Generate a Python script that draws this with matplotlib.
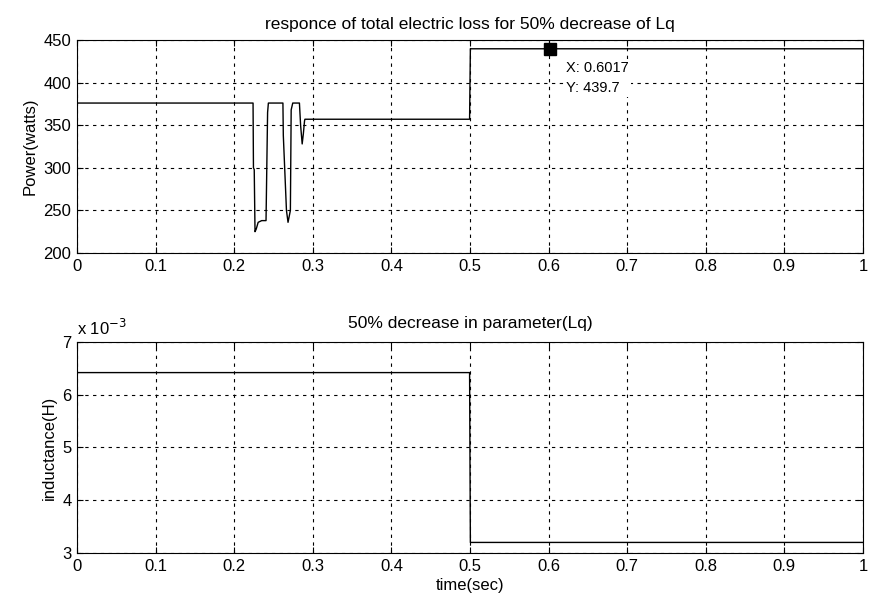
import matplotlib.pyplot as plt
from matplotlib.ticker import FuncFormatter

plt.rcParams['font.family'] = ['Liberation Sans', 'DejaVu Sans']

# total electric loss (W) - piecewise trace
t_loss = [0.0, 0.224, 0.2245, 0.2255, 0.2265, 0.228, 0.2305, 0.235, 0.2405, 0.2425, 0.2435,
          0.262, 0.2625, 0.2665, 0.2685, 0.2715, 0.2725, 0.2745,
          0.283, 0.2845, 0.2865, 0.288, 0.2895, 0.29, 0.4995, 0.5005, 1.0]
p_loss = [376, 376, 300, 298, 225, 228, 236, 238, 238, 365, 376,
          376, 338, 250, 236, 250, 368, 376,
          376, 350, 328, 340, 355, 357, 357, 439.7, 439.7]

# Lq (H)
t_lq = [0.0, 0.4995, 0.5005, 1.0]
lq = [6.42e-3, 6.42e-3, 3.2e-3, 3.2e-3]

tip_x, tip_y = 0.6017, 439.7

fig = plt.figure(figsize=(8.73, 6.08), dpi=100)
ax1 = fig.add_axes([0.0882, 0.5839, 0.9003, 0.3503])
ax2 = fig.add_axes([0.0882, 0.0905, 0.9003, 0.3470])

ax1.plot(t_loss, p_loss, color='black', lw=1.0)
ax1.plot(tip_x, tip_y, 's', color='black', ms=8)
ax1.text(0.6225, 425, 'X: 0.6017\nY: 439.7', fontsize=10.5, va='top', ha='left',
         linespacing=1.55,
         bbox=dict(facecolor='white', edgecolor='none', pad=1.5))
ax1.set_xlim(0, 1)
ax1.set_ylim(200, 450)
ax1.set_yticks([200, 250, 300, 350, 400, 450])
ax1.set_ylabel('Power(watts)', fontsize=12, labelpad=4)
ax1.set_title('responce of total electric loss for 50% decrease of Lq', fontsize=12.5, pad=8)

ax2.plot(t_lq, lq, color='black', lw=1.0)
ax2.set_xlim(0, 1)
ax2.set_ylim(3e-3, 7e-3)
ax2.set_yticks([3e-3, 4e-3, 5e-3, 6e-3, 7e-3])
ax2.yaxis.set_major_formatter(FuncFormatter(lambda v, p: '%g' % round(v * 1e3, 6)))
ax2.text(0.0, 1.035, r'x 10$^{-3}$', transform=ax2.transAxes, fontsize=12)
ax2.set_ylabel('inductance(H)', fontsize=12, labelpad=4)
ax2.set_xlabel('time(sec)', fontsize=12, labelpad=3)
ax2.set_title('50% decrease in parameter(Lq)', fontsize=12.5, pad=10)

for ax in (ax1, ax2):
    ax.set_xticks([i / 10 for i in range(11)])
    ax.xaxis.set_major_formatter(FuncFormatter(lambda v, p: '%g' % round(v, 2)))
    ax.grid(True, color='black', linestyle=(0, (3, 4)), lw=0.8)
    ax.tick_params(direction='in', top=True, right=True, labelsize=12, length=4, pad=4)
    for s in ax.spines.values():
        s.set_linewidth(0.8)

plt.savefig('out.png', dpi=100)
